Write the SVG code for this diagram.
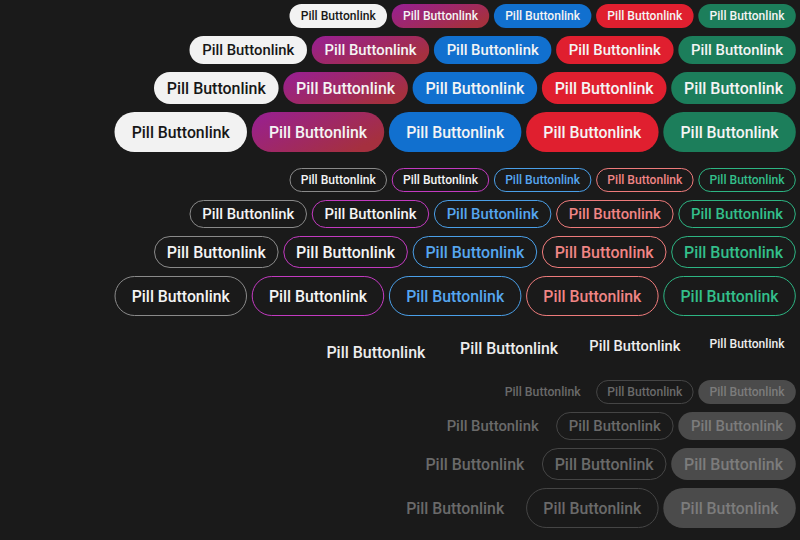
<svg xmlns="http://www.w3.org/2000/svg" width="800" height="540" viewBox="0 0 800 540">
<defs>
<linearGradient id="gp" x1="0" y1="0" x2="1" y2="0.6">
<stop offset="0" stop-color="#981f94"/>
<stop offset="1" stop-color="#a5303f"/>
</linearGradient>
<style>
text{font-family:Roboto,"Liberation Sans",sans-serif;text-anchor:middle;font-weight:500}
.xs{font-size:12px}.sm{font-size:14.5px}.md{font-size:16px}.lg{font-size:16px}
.fw{fill:#f2f2f2}.fp{fill:url(#gp)}.fb{fill:#1170cf}.fr{fill:#e01f2f}.fg{fill:#1c7e5b}
.tw{fill:#171717}.tl{fill:#f4f4f4}
.o{fill:none;stroke-width:1}
.ow{stroke:#8a8a8a}.op{stroke:#c23ac0}.ob{stroke:#4a9fe8}.or{stroke:#ee7b7b}.og{stroke:#2db583}
.tob{fill:#56a6f0}.tor{fill:#f08585}.tog{fill:#33bf8a}
.tt{fill:#ededed}
.dt{fill:#6a6a6a}.do{fill:none;stroke:#454545;stroke-width:1}.df{fill:#4b4b4b}.dft{fill:#7c7c7c}
</style>
</defs>
<rect width="800" height="540" fill="#1a1a1a"/>

<!-- filled xs -->
<g id="filled-xs-white"><rect class="fw" x="289.5" y="4" width="97.5" height="24" rx="12"/><text class="xs tw" x="338.25" y="20.4" textLength="75" lengthAdjust="spacingAndGlyphs">Pill Buttonlink</text></g>
<g id="filled-xs-purple"><rect class="fp" x="391.7" y="4" width="97.5" height="24" rx="12"/><text class="xs tl" x="440.45" y="20.4" textLength="75" lengthAdjust="spacingAndGlyphs">Pill Buttonlink</text></g>
<g id="filled-xs-blue"><rect class="fb" x="493.9" y="4" width="97.5" height="24" rx="12"/><text class="xs tl" x="542.65" y="20.4" textLength="75" lengthAdjust="spacingAndGlyphs">Pill Buttonlink</text></g>
<g id="filled-xs-red"><rect class="fr" x="596.1" y="4" width="97.5" height="24" rx="12"/><text class="xs tl" x="644.85" y="20.4" textLength="75" lengthAdjust="spacingAndGlyphs">Pill Buttonlink</text></g>
<g id="filled-xs-green"><rect class="fg" x="698.3" y="4" width="97.5" height="24" rx="12"/><text class="xs tl" x="747.05" y="20.4" textLength="75" lengthAdjust="spacingAndGlyphs">Pill Buttonlink</text></g>

<!-- filled sm -->
<g id="filled-sm-white"><rect class="fw" x="189.5" y="36" width="117.5" height="28" rx="14"/><text class="sm tw" x="248.25" y="55.2" textLength="92" lengthAdjust="spacingAndGlyphs">Pill Buttonlink</text></g>
<g id="filled-sm-purple"><rect class="fp" x="311.7" y="36" width="117.5" height="28" rx="14"/><text class="sm tl" x="370.45" y="55.2" textLength="92" lengthAdjust="spacingAndGlyphs">Pill Buttonlink</text></g>
<g id="filled-sm-blue"><rect class="fb" x="433.9" y="36" width="117.5" height="28" rx="14"/><text class="sm tl" x="492.65" y="55.2" textLength="92" lengthAdjust="spacingAndGlyphs">Pill Buttonlink</text></g>
<g id="filled-sm-red"><rect class="fr" x="556.1" y="36" width="117.5" height="28" rx="14"/><text class="sm tl" x="614.85" y="55.2" textLength="92" lengthAdjust="spacingAndGlyphs">Pill Buttonlink</text></g>
<g id="filled-sm-green"><rect class="fg" x="678.3" y="36" width="117.5" height="28" rx="14"/><text class="sm tl" x="737.05" y="55.2" textLength="92" lengthAdjust="spacingAndGlyphs">Pill Buttonlink</text></g>

<!-- filled md -->
<g id="filled-md-white"><rect class="fw" x="154" y="72" width="124.6" height="32" rx="16"/><text class="md tw" x="216.3" y="93.7" textLength="99" lengthAdjust="spacingAndGlyphs">Pill Buttonlink</text></g>
<g id="filled-md-purple"><rect class="fp" x="283.3" y="72" width="124.6" height="32" rx="16"/><text class="md tl" x="345.6" y="93.7" textLength="99" lengthAdjust="spacingAndGlyphs">Pill Buttonlink</text></g>
<g id="filled-md-blue"><rect class="fb" x="412.6" y="72" width="124.6" height="32" rx="16"/><text class="md tl" x="474.9" y="93.7" textLength="99" lengthAdjust="spacingAndGlyphs">Pill Buttonlink</text></g>
<g id="filled-md-red"><rect class="fr" x="541.9" y="72" width="124.6" height="32" rx="16"/><text class="md tl" x="604.2" y="93.7" textLength="99" lengthAdjust="spacingAndGlyphs">Pill Buttonlink</text></g>
<g id="filled-md-green"><rect class="fg" x="671.2" y="72" width="124.6" height="32" rx="16"/><text class="md tl" x="733.5" y="93.7" textLength="99" lengthAdjust="spacingAndGlyphs">Pill Buttonlink</text></g>

<!-- filled lg -->
<g id="filled-lg-white"><rect class="fw" x="114.5" y="112" width="132.5" height="40" rx="20"/><text class="lg tw" x="180.75" y="137.7" textLength="98" lengthAdjust="spacingAndGlyphs">Pill Buttonlink</text></g>
<g id="filled-lg-purple"><rect class="fp" x="251.7" y="112" width="132.5" height="40" rx="20"/><text class="lg tl" x="317.95" y="137.7" textLength="98" lengthAdjust="spacingAndGlyphs">Pill Buttonlink</text></g>
<g id="filled-lg-blue"><rect class="fb" x="388.9" y="112" width="132.5" height="40" rx="20"/><text class="lg tl" x="455.15" y="137.7" textLength="98" lengthAdjust="spacingAndGlyphs">Pill Buttonlink</text></g>
<g id="filled-lg-red"><rect class="fr" x="526.1" y="112" width="132.5" height="40" rx="20"/><text class="lg tl" x="592.35" y="137.7" textLength="98" lengthAdjust="spacingAndGlyphs">Pill Buttonlink</text></g>
<g id="filled-lg-green"><rect class="fg" x="663.3" y="112" width="132.5" height="40" rx="20"/><text class="lg tl" x="729.55" y="137.7" textLength="98" lengthAdjust="spacingAndGlyphs">Pill Buttonlink</text></g>

<!-- outline xs -->
<g id="outline-xs-white"><rect class="o ow" x="290" y="168.5" width="96.5" height="23" rx="11.5"/><text class="xs tl" x="338.25" y="184.4" textLength="75" lengthAdjust="spacingAndGlyphs">Pill Buttonlink</text></g>
<g id="outline-xs-purple"><rect class="o op" x="392.2" y="168.5" width="96.5" height="23" rx="11.5"/><text class="xs tl" x="440.45" y="184.4" textLength="75" lengthAdjust="spacingAndGlyphs">Pill Buttonlink</text></g>
<g id="outline-xs-blue"><rect class="o ob" x="494.4" y="168.5" width="96.5" height="23" rx="11.5"/><text class="xs tob" x="542.65" y="184.4" textLength="75" lengthAdjust="spacingAndGlyphs">Pill Buttonlink</text></g>
<g id="outline-xs-red"><rect class="o or" x="596.6" y="168.5" width="96.5" height="23" rx="11.5"/><text class="xs tor" x="644.85" y="184.4" textLength="75" lengthAdjust="spacingAndGlyphs">Pill Buttonlink</text></g>
<g id="outline-xs-green"><rect class="o og" x="698.8" y="168.5" width="96.5" height="23" rx="11.5"/><text class="xs tog" x="747.05" y="184.4" textLength="75" lengthAdjust="spacingAndGlyphs">Pill Buttonlink</text></g>

<!-- outline sm -->
<g id="outline-sm-white"><rect class="o ow" x="190" y="200.5" width="116.5" height="27" rx="13.5"/><text class="sm tl" x="248.25" y="219.2" textLength="92" lengthAdjust="spacingAndGlyphs">Pill Buttonlink</text></g>
<g id="outline-sm-purple"><rect class="o op" x="312.2" y="200.5" width="116.5" height="27" rx="13.5"/><text class="sm tl" x="370.45" y="219.2" textLength="92" lengthAdjust="spacingAndGlyphs">Pill Buttonlink</text></g>
<g id="outline-sm-blue"><rect class="o ob" x="434.4" y="200.5" width="116.5" height="27" rx="13.5"/><text class="sm tob" x="492.65" y="219.2" textLength="92" lengthAdjust="spacingAndGlyphs">Pill Buttonlink</text></g>
<g id="outline-sm-red"><rect class="o or" x="556.6" y="200.5" width="116.5" height="27" rx="13.5"/><text class="sm tor" x="614.85" y="219.2" textLength="92" lengthAdjust="spacingAndGlyphs">Pill Buttonlink</text></g>
<g id="outline-sm-green"><rect class="o og" x="678.8" y="200.5" width="116.5" height="27" rx="13.5"/><text class="sm tog" x="737.05" y="219.2" textLength="92" lengthAdjust="spacingAndGlyphs">Pill Buttonlink</text></g>

<!-- outline md -->
<g id="outline-md-white"><rect class="o ow" x="154.5" y="236.5" width="123.6" height="31" rx="15.5"/><text class="md tl" x="216.3" y="257.7" textLength="99" lengthAdjust="spacingAndGlyphs">Pill Buttonlink</text></g>
<g id="outline-md-purple"><rect class="o op" x="283.8" y="236.5" width="123.6" height="31" rx="15.5"/><text class="md tl" x="345.6" y="257.7" textLength="99" lengthAdjust="spacingAndGlyphs">Pill Buttonlink</text></g>
<g id="outline-md-blue"><rect class="o ob" x="413.1" y="236.5" width="123.6" height="31" rx="15.5"/><text class="md tob" x="474.9" y="257.7" textLength="99" lengthAdjust="spacingAndGlyphs">Pill Buttonlink</text></g>
<g id="outline-md-red"><rect class="o or" x="542.4" y="236.5" width="123.6" height="31" rx="15.5"/><text class="md tor" x="604.2" y="257.7" textLength="99" lengthAdjust="spacingAndGlyphs">Pill Buttonlink</text></g>
<g id="outline-md-green"><rect class="o og" x="671.7" y="236.5" width="123.6" height="31" rx="15.5"/><text class="md tog" x="733.5" y="257.7" textLength="99" lengthAdjust="spacingAndGlyphs">Pill Buttonlink</text></g>

<!-- outline lg -->
<g id="outline-lg-white"><rect class="o ow" x="115" y="276.5" width="131.5" height="39" rx="19.5"/><text class="lg tl" x="180.75" y="301.7" textLength="98" lengthAdjust="spacingAndGlyphs">Pill Buttonlink</text></g>
<g id="outline-lg-purple"><rect class="o op" x="252.2" y="276.5" width="131.5" height="39" rx="19.5"/><text class="lg tl" x="317.95" y="301.7" textLength="98" lengthAdjust="spacingAndGlyphs">Pill Buttonlink</text></g>
<g id="outline-lg-blue"><rect class="o ob" x="389.4" y="276.5" width="131.5" height="39" rx="19.5"/><text class="lg tob" x="455.15" y="301.7" textLength="98" lengthAdjust="spacingAndGlyphs">Pill Buttonlink</text></g>
<g id="outline-lg-red"><rect class="o or" x="526.6" y="276.5" width="131.5" height="39" rx="19.5"/><text class="lg tor" x="592.35" y="301.7" textLength="98" lengthAdjust="spacingAndGlyphs">Pill Buttonlink</text></g>
<g id="outline-lg-green"><rect class="o og" x="663.8" y="276.5" width="131.5" height="39" rx="19.5"/><text class="lg tog" x="729.55" y="301.7" textLength="98" lengthAdjust="spacingAndGlyphs">Pill Buttonlink</text></g>

<!-- text-only row -->
<g id="text-lg"><text class="lg tt" x="375.9" y="357.7" textLength="99" lengthAdjust="spacingAndGlyphs">Pill Buttonlink</text></g>
<g id="text-md"><text class="md tt" x="509.1" y="353.7" textLength="98" lengthAdjust="spacingAndGlyphs">Pill Buttonlink</text></g>
<g id="text-sm"><text class="sm tt" x="634.85" y="351.2" textLength="91" lengthAdjust="spacingAndGlyphs">Pill Buttonlink</text></g>
<g id="text-xs"><text class="xs tt" x="747.05" y="348.4" textLength="75" lengthAdjust="spacingAndGlyphs">Pill Buttonlink</text></g>

<!-- disabled xs -->
<g id="disabled-xs-text"><text class="xs dt" x="542.65" y="396.4" textLength="76" lengthAdjust="spacingAndGlyphs">Pill Buttonlink</text></g>
<g id="disabled-xs-outline"><rect class="do" x="596.6" y="380.5" width="96.5" height="23" rx="11.5"/><text class="xs dt" x="644.85" y="396.4" textLength="75" lengthAdjust="spacingAndGlyphs">Pill Buttonlink</text></g>
<g id="disabled-xs-filled"><rect class="df" x="698.3" y="380" width="97.5" height="24" rx="12"/><text class="xs dft" x="747.05" y="396.4" textLength="75" lengthAdjust="spacingAndGlyphs">Pill Buttonlink</text></g>

<!-- disabled sm -->
<g id="disabled-sm-text"><text class="sm dt" x="492.65" y="431.2" textLength="92" lengthAdjust="spacingAndGlyphs">Pill Buttonlink</text></g>
<g id="disabled-sm-outline"><rect class="do" x="556.6" y="412.5" width="116.5" height="27" rx="13.5"/><text class="sm dt" x="614.85" y="431.2" textLength="92" lengthAdjust="spacingAndGlyphs">Pill Buttonlink</text></g>
<g id="disabled-sm-filled"><rect class="df" x="678.3" y="412" width="117.5" height="28" rx="14"/><text class="sm dft" x="737.05" y="431.2" textLength="92" lengthAdjust="spacingAndGlyphs">Pill Buttonlink</text></g>

<!-- disabled md -->
<g id="disabled-md-text"><text class="md dt" x="474.9" y="469.7" textLength="99" lengthAdjust="spacingAndGlyphs">Pill Buttonlink</text></g>
<g id="disabled-md-outline"><rect class="do" x="542.4" y="448.5" width="123.6" height="31" rx="15.5"/><text class="md dt" x="604.2" y="469.7" textLength="99" lengthAdjust="spacingAndGlyphs">Pill Buttonlink</text></g>
<g id="disabled-md-filled"><rect class="df" x="671.2" y="448" width="124.6" height="32" rx="16"/><text class="md dft" x="733.5" y="469.7" textLength="99" lengthAdjust="spacingAndGlyphs">Pill Buttonlink</text></g>

<!-- disabled lg -->
<g id="disabled-lg-text"><text class="lg dt" x="455.15" y="513.7" textLength="98" lengthAdjust="spacingAndGlyphs">Pill Buttonlink</text></g>
<g id="disabled-lg-outline"><rect class="do" x="526.6" y="488.5" width="131.5" height="39" rx="19.5"/><text class="lg dt" x="592.35" y="513.7" textLength="98" lengthAdjust="spacingAndGlyphs">Pill Buttonlink</text></g>
<g id="disabled-lg-filled"><rect class="df" x="663.3" y="488" width="132.5" height="40" rx="20"/><text class="lg dft" x="729.55" y="513.7" textLength="98" lengthAdjust="spacingAndGlyphs">Pill Buttonlink</text></g>
</svg>
